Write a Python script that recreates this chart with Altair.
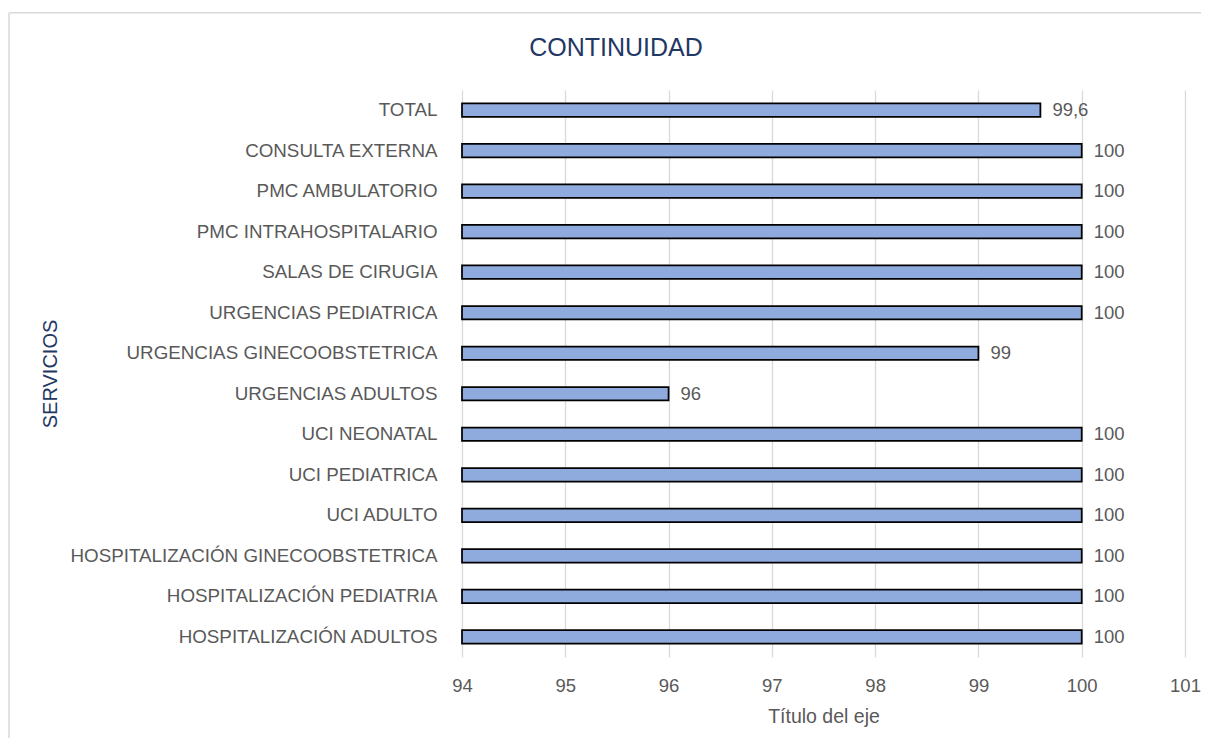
import altair as alt
import pandas as pd

categories = [
    "TOTAL",
    "CONSULTA EXTERNA",
    "PMC AMBULATORIO",
    "PMC INTRAHOSPITALARIO",
    "SALAS DE CIRUGIA",
    "URGENCIAS PEDIATRICA",
    "URGENCIAS GINECOOBSTETRICA",
    "URGENCIAS ADULTOS",
    "UCI NEONATAL",
    "UCI PEDIATRICA",
    "UCI ADULTO",
    "HOSPITALIZACIÓN GINECOOBSTETRICA",
    "HOSPITALIZACIÓN PEDIATRIA",
    "HOSPITALIZACIÓN ADULTOS",
]
values = [99.6, 100, 100, 100, 100, 100, 99, 96, 100, 100, 100, 100, 100, 100]
x_ticks = [94, 95, 96, 97, 98, 99, 100, 101]

labels = [f"{v:g}".replace(".", ",") for v in values]
df = pd.DataFrame({"servicio": categories, "valor": values, "etiqueta": labels})

FONT = "Liberation Sans"
GRAY = "#595959"
NAVY = "#1F3864"

W, H = 723, 567

y_enc = alt.Y(
    "servicio:N",
    sort=categories,
    scale=alt.Scale(paddingInner=0.667, paddingOuter=0.333),
    axis=alt.Axis(
        title="SERVICIOS",
        domain=False,
        ticks=False,
        labelPadding=25,
        labelFontSize=18.8,
        labelColor=GRAY,
        labelFont=FONT,
        labelLimit=600,
        titleFont=FONT,
        titleFontSize=20,
        titleFontWeight="normal",
        titleColor=NAVY,
        titleX=-412,
        titleY=H / 2,
        titleAlign="center",
        titleBaseline="middle",
        titleAngle=270,
        grid=False,
    ),
)

x_scale = alt.Scale(domain=[94, 101], nice=False, zero=False)

bars = alt.Chart(df).mark_bar(
    fill="#8FAADC", stroke="#000000", strokeWidth=1.75
).encode(
    x=alt.X(
        "valor:Q",
        scale=x_scale,
        axis=alt.Axis(
            values=x_ticks,
            format="d",
            title="Título del eje",
            domain=False,
            ticks=False,
            grid=True,
            gridColor="#D9D9D9",
            gridWidth=1.3,
            labelFlush=False,
            labelPadding=19,
            labelFontSize=18.5,
            labelColor=GRAY,
            labelFont=FONT,
            titleFont=FONT,
            titleFontSize=19.5,
            titleFontWeight="normal",
            titleColor=GRAY,
            titleY=50,
        ),
    ),
    x2=alt.datum(94),
    y=y_enc,
)

text = alt.Chart(df).mark_text(
    align="left", baseline="middle", dx=12, font=FONT, fontSize=18.5, color=GRAY
).encode(
    x=alt.X("valor:Q", scale=x_scale),
    y=alt.Y("servicio:N", sort=categories),
    text="etiqueta:N",
)

title = alt.Chart(pd.DataFrame({"t": ["CONTINUIDAD"]})).mark_text(
    align="center", baseline="middle", font=FONT, fontSize=25, color=NAVY
).encode(
    x=alt.value(154),
    y=alt.value(-42),
    text="t:N",
)

border_top = alt.Chart(pd.DataFrame({"a": [0]})).mark_rule(
    color="#D9D9D9", strokeWidth=1.5
).encode(
    x=alt.value(-453),
    x2=alt.value(739),
    y=alt.value(-77.25),
)

border_left = alt.Chart(pd.DataFrame({"a": [0]})).mark_rule(
    color="#D9D9D9", strokeWidth=1.5
).encode(
    x=alt.value(-453),
    y=alt.value(-77.25),
    y2=alt.value(648),
)

chart = (
    alt.layer(border_top, border_left, bars, text, title)
    .properties(
        width=W,
        height=H,
        padding={"left": 0, "top": 4, "right": 0, "bottom": 0},
        background="white",
    )
    .configure_view(stroke=None)
)

chart.save("out.html", embed_options={"renderer": "svg", "actions": False})
